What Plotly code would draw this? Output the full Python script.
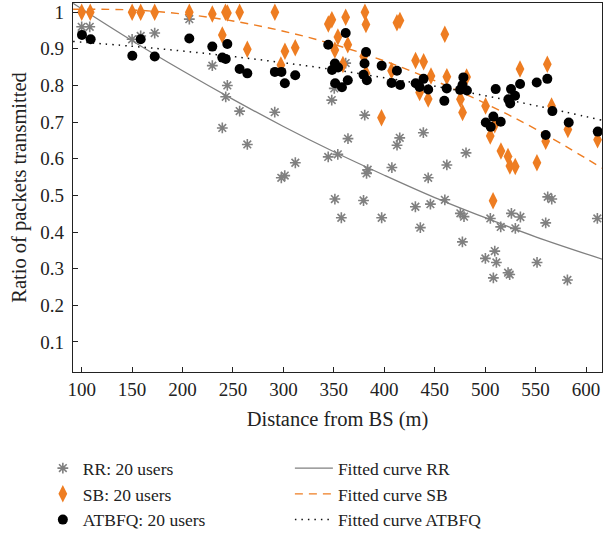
import plotly.graph_objects as go

# ---------------- data ----------------
rr_x = [100, 108, 150, 158.5, 172.4, 206.7, 229.5, 244.4, 242.8, 256.6, 239.4, 264.2,
        291.4, 311.8, 297.9, 301.3, 350.4, 347.9, 361.7, 380.6, 364, 415.3, 412.6, 438.7,
        481, 462, 443.5, 407.5, 382.4, 383.5, 353.9, 344.4, 351, 379.4, 460, 562, 566,
        357.4, 397.4, 430.8, 445.7, 435.7, 475.4, 479, 477.4, 505.1, 515.4, 526, 534.9,
        529.9, 509.5, 500.2, 511.1, 508.1, 522.7, 524.3, 551.4, 560, 581.5, 611.2]
rr_y = [0.96, 0.96, 0.926, 0.935, 0.943, 0.981, 0.854, 0.80, 0.769, 0.730, 0.684, 0.639,
        0.727, 0.589, 0.548, 0.554, 0.792, 0.760, 0.861, 0.719, 0.655, 0.657, 0.637, 0.671,
        0.616, 0.583, 0.548, 0.576, 0.560, 0.570, 0.612, 0.605, 0.490, 0.486, 0.488, 0.496, 0.490,
        0.439, 0.439, 0.469, 0.476, 0.412, 0.451, 0.442, 0.373, 0.437, 0.414, 0.451, 0.441,
        0.410, 0.348, 0.328, 0.317, 0.275, 0.289, 0.284, 0.317, 0.425, 0.269, 0.437]

sb_x = [100, 108.5, 150, 158.5, 172.4, 206.7, 229.5, 242.5, 244.5, 256.6, 239.4, 264.2,
        291.5, 301.5, 311.7, 297.5, 344.5, 348, 361.7, 380.8, 381.8, 412.5, 415.5, 354,
        351, 363.8, 359, 379.6, 381.9, 397.2, 407.2, 431, 439, 435, 443.5, 446.3, 460,
        462, 475.5, 477.6, 481.6, 500.4, 505, 509.5, 515.6, 522.6, 524.5, 529.8, 551.3,
        534.5, 561.6, 565.8, 560, 582, 611.4, 507.8]
sb_y = [1.0, 1.0, 1.0, 1.0, 1.0, 1.0, 0.995, 1.0, 0.998, 1.0, 0.938, 0.899,
        1.0, 0.893, 0.903, 0.856, 0.968, 0.979, 0.986, 1.0, 0.966, 0.971, 0.977, 0.932,
        0.897, 0.911, 0.857, 0.879, 0.833, 0.712, 0.840, 0.868, 0.865, 0.781, 0.763, 0.826, 0.940,
        0.824, 0.762, 0.726, 0.823, 0.744, 0.662, 0.693, 0.621, 0.606, 0.580, 0.579, 0.589,
        0.845, 0.858, 0.744, 0.648, 0.680, 0.652, 0.485]

at_x = [100.3, 108.9, 150.2, 158.5, 172.4, 206.7, 229.5, 244.4, 239.4, 242.8, 256.6, 264.2,
        291.5, 298, 301.4, 311.7, 344.4, 361.7, 351, 348.2, 354.2, 351.3, 358, 363.8,
        381.9, 380.4, 379.4, 382.7, 397.4, 412.5, 407.2, 415.7, 431.1, 438.9, 434.9, 443.5,
        461.9, 459.5, 478.4, 477.5, 475.1, 481.9, 510.4, 525.6, 529.6, 523, 524.8, 534.6,
        551.1, 561.6, 566.6, 500.6, 508.1, 505.5, 515.4, 560, 582.8, 611.6]
at_y = [0.938, 0.926, 0.881, 0.926, 0.879, 0.928, 0.906, 0.913, 0.876, 0.872, 0.845, 0.833,
        0.837, 0.837, 0.806, 0.828, 0.911, 0.943, 0.860, 0.842, 0.849, 0.806, 0.795, 0.814,
        0.891, 0.860, 0.829, 0.814, 0.854, 0.840, 0.807, 0.801, 0.806, 0.818, 0.796, 0.789,
        0.792, 0.758, 0.822, 0.801, 0.788, 0.786, 0.790, 0.790, 0.772, 0.762, 0.751, 0.804,
        0.808, 0.818, 0.730, 0.699, 0.715, 0.687, 0.701, 0.665, 0.699, 0.674]

# fitted curves
fit_x = [91.5, 150, 200, 250, 300, 350, 400, 450, 500, 550, 616]
fit_rr = [1.024, 0.922, 0.840, 0.762, 0.688, 0.619, 0.555, 0.494, 0.439, 0.387, 0.326]
fit_sb = [1.008, 1.006, 0.995, 0.976, 0.948, 0.912, 0.867, 0.813, 0.751, 0.681, 0.574]
fit_at = [0.920, 0.907, 0.894, 0.879, 0.862, 0.843, 0.821, 0.798, 0.772, 0.745, 0.705]

x_ticks = [100, 150, 200, 250, 300, 350, 400, 450, 500, 550, 600]
y_ticks = [0.1, 0.2, 0.3, 0.4, 0.5, 0.6, 0.7, 0.8, 0.9, 1.0]
y_tick_text = ["0.1", "0.2", "0.3", "0.4", "0.5", "0.6", "0.7", "0.8", "0.9", "1"]

GRAY = "#808080"
ORANGE = "#EE7D22"
FONT = "Liberation Serif"

fig = go.Figure()

# curves first (drawn under markers)
fig.add_trace(go.Scatter(x=fit_x, y=fit_rr, mode="lines", line=dict(color=GRAY, width=1.3, shape="spline"),
                         name="Fitted curve RR", legend="legend2", legendgroup="f1"))
fig.add_trace(go.Scatter(x=fit_x, y=fit_sb, mode="lines",
                         line=dict(color=ORANGE, width=1.4, dash="8px,6px", shape="spline"),
                         name="Fitted curve SB", legend="legend2", legendgroup="f2"))
fig.add_trace(go.Scatter(x=fit_x, y=fit_at, mode="lines",
                         line=dict(color="#111111", width=1.5, dash="1.5px,5px", shape="spline"),
                         name="Fitted curve ATBFQ", legend="legend2", legendgroup="f3"))

fig.add_trace(go.Scatter(x=rr_x, y=rr_y, mode="markers", name="RR: 20 users", legendgroup="m1",
                         marker=dict(symbol="asterisk-open", size=9, color=GRAY,
                                     line=dict(color=GRAY, width=1.6))))
fig.add_trace(go.Scatter(x=sb_x, y=sb_y, mode="markers", name="SB: 20 users", legendgroup="m2",
                         marker=dict(symbol="diamond-tall", size=12.5, color=ORANGE,
                                     line=dict(width=0))))
fig.add_trace(go.Scatter(x=at_x, y=at_y, mode="markers", name="ATBFQ: 20 users", legendgroup="m3",
                         marker=dict(symbol="circle", size=10, color="black", line=dict(width=0))))

axis_common = dict(showline=True, linecolor="#222222", linewidth=1.3, mirror=True,
                   ticks="inside", ticklen=5, tickwidth=1.2, tickcolor="#222222",
                   showgrid=False, zeroline=False, automargin=False,
                   tickfont=dict(family=FONT, size=19, color="#222222"))

fig.update_xaxes(range=[91.4, 615.8], tickvals=x_ticks,
                 title=dict(text="Distance from BS (m)", font=dict(family=FONT, size=20.5, color="#222222"),
                            standoff=12),
                 **axis_common)
fig.update_yaxes(range=[0.018, 1.025], tickvals=y_ticks, ticktext=y_tick_text,
                 title=dict(text="Ratio of packets transmitted", font=dict(family=FONT, size=20.5, color="#222222"),
                            standoff=8),
                 ticklabelstandoff=4,
                 **axis_common)

legend_common = dict(font=dict(family=FONT, size=17.5, color="#222222"), bgcolor="rgba(0,0,0,0)",
                     traceorder="grouped", tracegroupgap=0, yanchor="top", xanchor="left",
                     itemclick=False)
fig.update_layout(
    width=603, height=537,
    margin=dict(l=73, r=1, t=3, b=165, autoexpand=False),
    paper_bgcolor="white", plot_bgcolor="white",
    legend=dict(x=-0.057, y=-0.212, **legend_common),
    legend2=dict(x=0.41, y=-0.212, itemwidth=38, **legend_common),
)

fig.write_html("out.html", config={"displayModeBar": False},
               post_script="document.body.style.margin='0';document.body.style.overflow='hidden';")
